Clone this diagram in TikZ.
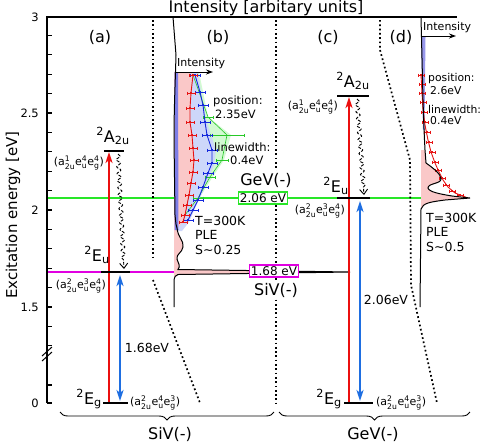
\documentclass[tikz,border=0pt]{standalone}
\usepackage{amsmath}
\usepackage{fontspec}
\setmainfont{DejaVu Sans}
\usetikzlibrary{arrows.meta,decorations.pathmorphing,decorations.pathreplacing}

\definecolor{sivcol}{RGB}{225,0,225}
\definecolor{gevcol}{RGB}{40,230,40}
\definecolor{exccol}{RGB}{235,15,15}
\definecolor{emicol}{RGB}{30,110,225}
\definecolor{plfill}{RGB}{250,200,200}
\definecolor{plefill}{RGB}{205,215,250}
\definecolor{plestrip}{RGB}{125,125,230}
\definecolor{grnfill}{RGB}{210,250,210}
\definecolor{datred}{RGB}{230,20,20}
\definecolor{datblue}{RGB}{20,40,220}
\definecolor{datgreen}{RGB}{40,200,40}

\newcommand{\orbocc}[3]{\ensuremath{\text{#1}^{\text{#2}}_{\text{#3}}}}
\newcommand{\lvlterm}[3]{\ensuremath{{}^{\text{#1}}\text{#2}_{\text{#3}}}}

\begin{document}
\begin{tikzpicture}[x=1pt,y=-1pt,
    axis/.style={line width=1.2pt},
    lvl/.style={line width=2.6pt},
    dots/.style={line width=1.7pt, dash pattern=on 1.7pt off 2.6pt},
    pump/.style={exccol, line width=2.2pt, -{Stealth[length=11pt,width=7pt,inset=3pt]}},
    emit/.style={emicol, line width=2.2pt, {Stealth[length=11pt,width=7pt,inset=3pt]}-{Stealth[length=11pt,width=7pt,inset=3pt]}},
    relax/.style={line width=0.9pt, dash pattern=on 3pt off 1.6pt, decorate,
        decoration={snake, amplitude=2pt, segment length=7pt, post length=7pt},
        -{Straight Barb[length=5pt,width=8pt]}},
    big/.style={font=\fontsize{16}{19}\selectfont, inner sep=0pt},
    mid/.style={font=\fontsize{12.5}{14.5}\selectfont, inner sep=0pt, align=left},
    small/.style={font=\fontsize{11.5}{13}\selectfont, inner sep=0pt},
    cfg/.style={font=\fontsize{11}{13}\selectfont, inner sep=0pt},
    spec/.style={line width=1pt},
    bar/.style={line width=0.6pt}]
    \useasboundingbox (0,0) rectangle (484,445);

    % energy lines of the two zero phonon lines
    \coordinate (gl) at (47,198);
    \coordinate (gr) at (421,198);
    \coordinate (ml) at (47,272);
    \coordinate (mr) at (174,272);
    \draw[gevcol, line width=2pt] (gl) -- (gr);
    \draw[sivcol, line width=2pt] (ml) -- (mr);

    % spectra (b)
    \fill[grnfill] (175,72) -- (199,72) -- (208,117) -- (231,135) -- (224,160) -- (212,178)
        -- (195,205) -- (185,220) -- (176,228) -- cycle;
    \fill[plefill] (175,72) -- (198,72) -- (201,92) -- (206,120) -- (216,150) -- (214,165)
        -- (205,187) -- (196,206) -- (189,222) -- (182,231) -- (175,231) -- cycle;
    \fill[plfill] (175,72) -- (193,72) -- (192,75) -- (191,93) -- (190,108) -- (190,122)
        -- (192,135) -- (193,148) -- (194,160) -- (193,172) -- (191,183) -- (189,195)
        -- (187,205) -- (185,215) -- (183,222) -- (177,228)
        .. controls (178,238) and (184,240) .. (183,247) .. controls (182,253) and (176,254) .. (177,259)
        .. controls (178,263) and (181,266) .. (178,269.5) -- (350,272) -- (178,274.5) -- (174,278) -- (174,72) -- cycle;
    \fill[plestrip] (174.5,72) -- (178,72) -- (178.5,230) -- (174.5,230) -- cycle;

    \draw[datgreen, bar] (193,75) -- (208,117) -- (227,135) -- (222,160) -- (210,177) -- (198,198) -- (185,215);
    \foreach \px/\py/\ew in {193/75/4, 208/117/5, 227/135/17, 222/160/6, 210/177/5, 198/198/5, 185/215/4} {
        \draw[datgreen, bar] (\px-\ew,\py) -- (\px+\ew,\py) (\px-\ew,\py-1.5) -- (\px-\ew,\py+1.5) (\px+\ew,\py-1.5) -- (\px+\ew,\py+1.5);
    }
    \draw[datblue, line width=0.9pt] (195,75) -- (200,92) -- (203,105) -- (205,122) -- (207,135) -- (212,150)
        -- (212,163) -- (208,173) -- (203,187) -- (198,200) -- (193,210) -- (188,220);
    \foreach \px/\py in {195/75, 200/92, 203/105, 205/122, 207/135, 212/150, 212/163, 208/173, 203/187, 198/200, 193/210, 188/220} {
        \draw[datblue, bar] (\px-5,\py) -- (\px+5,\py) (\px-5,\py-1.5) -- (\px-5,\py+1.5) (\px+5,\py-1.5) -- (\px+5,\py+1.5);
        \fill[datblue] (\px-1.3,\py-1.3) rectangle (\px+1.3,\py+1.3);
    }
    \draw[datred, line width=0.9pt] (193,75) -- (191,93) -- (190,108) -- (190,122) -- (192,135) -- (193,148)
        -- (194,160) -- (193,172) -- (191,183) -- (189,195) -- (187,205) -- (185,215) -- (183,222);
    \foreach \px/\py in {193/75, 191/93, 190/108, 190/122, 192/135, 193/148, 194/160, 193/172, 191/183, 189/195, 187/205, 185/215, 183/222} {
        \draw[datred, bar] (\px-4,\py) -- (\px+4,\py) (\px-4,\py-1.5) -- (\px-4,\py+1.5) (\px+4,\py-1.5) -- (\px+4,\py+1.5);
        \fill[datred] (\px-1.3,\py-1.3) rectangle (\px+1.3,\py+1.3);
    }
    \draw[spec] (173,17) -- (176,55) .. controls (175,90) and (174,110) .. (174,140) -- (175,215)
        .. controls (176,225) .. (177,228) .. controls (178,238) and (184,240) .. (183,247)
        .. controls (182,253) and (176,254) .. (177,259) .. controls (178,263) and (181,266) .. (178,269.5)
        -- (350,272) -- (178,274.5) .. controls (175,276) .. (174,280) -- (174,307);

    % spectra (d)
    \fill[plestrip!80!white] (421,37) -- (425.5,37) -- (424.5,130) -- (423,130) -- cycle;
    \fill[plfill] (421,150) -- (425,150) -- (426,163) .. controls (433,168) and (441,174) .. (441,179)
        .. controls (441,184) and (428,183) .. (428,188) .. controls (429,192) and (440,194) .. (452,196)
        -- (470,198) -- (445,200) .. controls (430,202) and (423,203) .. (421,209) -- cycle;
    \draw[datred, line width=0.9pt] (421,75) -- (422,93) -- (423,110) -- (425,125) -- (428,140) -- (431,152)
        -- (435,163) -- (439,172) -- (443,180) -- (448,187) -- (455,193) -- (468,198);
    \foreach \px/\py in {421/75, 422/84, 422/93, 423/102, 424/112, 425/122, 427/132, 429/142, 432/152, 435/162, 438/170, 442/178, 446/185, 452/191, 460/195} {
        \draw[datred, bar] (\px-3,\py) -- (\px+3,\py) (\px-3,\py-1.5) -- (\px-3,\py+1.5) (\px+3,\py-1.5) -- (\px+3,\py+1.5);
        \fill[datred] (\px-1.2,\py-1.2) rectangle (\px+1.2,\py+1.2);
    }
    \draw[spec] (421,17) -- (423,100) .. controls (424,130) .. (425,150) -- (426,163)
        .. controls (433,168) and (441,174) .. (441,179) .. controls (441,184) and (428,183) .. (428,188)
        .. controls (429,192) and (440,194) .. (452,196) -- (470,198) -- (445,200)
        .. controls (430,202) and (423,203) .. (421,209) -- (420,307);

    % panel separators
    \draw[dots] (153,20) -- (153,259);
    \draw[dots] (153,280) -- (200,403);
    \draw[dots] (276,20) -- (276,403);
    \draw[dots] (380,20) -- (380,50) -- (410,160) -- (411,285) -- (437,403);

    % frame and energy axis
    \draw[axis] (47,403) -- (47,17) -- (457,17);
    \foreach \e in {13,...,29} {
        \draw[axis] (47,{210-(\e/10-2)*194}) -- ++(5,0);
    }
    \draw[axis] (47,385) -- ++(5,0);
    \draw[axis] (47,403) -- ++(5,0);
    \draw[line width=1pt] (42,356) -- (52,347) (42,361) -- (52,352);
    \node[small, anchor=east] (t3) at (39,17) {3};
    \node[small, anchor=east] (t25) at (39,113) {2.5};
    \node[small, anchor=east] (t2) at (39,210) {2};
    \node[small, anchor=east] (t15) at (39,307) {1.5};
    \node[small, anchor=east] (t0) at (39,403) {0};
    \node[big, rotate=90, font=\fontsize{15}{18}\selectfont] (ylab) at (13,215) {Excitation energy [eV]};
    \node[big] (xlab) at (266,8) {Intensity [arbitary units]};

    \node[big] (pa) at (100,37) {(a)};
    \node[big] (pb) at (218,37) {(b)};
    \node[big] (pc) at (328,37) {(c)};
    \node[big] (pd) at (401,37) {(d)};

    % level scheme SiV(-)
    \coordinate (egaL) at (103,403);
    \coordinate (egaR) at (128,403);
    \coordinate (euaL) at (101,272);
    \coordinate (euaR) at (130,272);
    \coordinate (auaL) at (104,151);
    \coordinate (auaR) at (124,151);
    \coordinate (xa0) at (109,403);
    \coordinate (xa1) at (109,152);
    \coordinate (ya0) at (120,275);
    \coordinate (ya1) at (120,401);
    \coordinate (wa0) at (118,154);
    \coordinate (wa1) at (124,269);
    \draw[pump] (xa0) -- (xa1);
    \draw[emit] (ya0) -- (ya1);
    \draw[relax] (wa0) -- (wa1);
    \draw[lvl] (egaL) -- (egaR);
    \draw[lvl] (euaL) -- (euaR);
    \draw[lvl] (auaL) -- (auaR);
    \node[big, anchor=base east] (ega) at (102,404) {\lvlterm{2}{E}{g}};
    \node[cfg, anchor=west] (cega) at (130,403) {(\orbocc{a}{2}{2u}\orbocc{e}{4}{u}\orbocc{e}{3}{g})};
    \node[big, anchor=base] (eua) at (97,261) {\lvlterm{2}{E}{u}};
    \node[cfg, anchor=east] (ceua) at (106,286) {(\orbocc{a}{2}{2u}\orbocc{e}{3}{u}\orbocc{e}{4}{g})};
    \node[big, anchor=base] (aua) at (113,142) {\lvlterm{2}{A}{2u}};
    \node[cfg, anchor=east] (caua) at (104,163) {(\orbocc{a}{1}{2u}\orbocc{e}{4}{u}\orbocc{e}{4}{g})};
    \node[mid] (ea) at (147,348) {1.68eV};

    % level scheme GeV(-)
    \coordinate (egcL) at (344,403);
    \coordinate (egcR) at (373,403);
    \coordinate (eucL) at (337,198);
    \coordinate (eucR) at (370,198);
    \coordinate (aucL) at (337,96);
    \coordinate (aucR) at (369,96);
    \coordinate (xc0) at (349,403);
    \coordinate (xc1) at (349,97);
    \coordinate (yc0) at (360,201);
    \coordinate (yc1) at (360,401);
    \coordinate (wc0) at (357,99);
    \coordinate (wc1) at (364,195);
    \draw[pump] (xc0) -- (xc1);
    \draw[emit] (yc0) -- (yc1);
    \draw[relax] (wc0) -- (wc1);
    \draw[lvl] (egcL) -- (egcR);
    \draw[lvl] (eucL) -- (eucR);
    \draw[lvl] (aucL) -- (aucR);
    \node[big, anchor=base east] (egc) at (342,404) {\lvlterm{2}{E}{g}};
    \node[cfg, anchor=west] (cegc) at (376,403) {(\orbocc{a}{2}{2u}\orbocc{e}{4}{u}\orbocc{e}{3}{g})};
    \node[big, anchor=base] (euc) at (336,192) {\lvlterm{2}{E}{u}};
    \node[cfg, anchor=east] (ceuc) at (345,211) {(\orbocc{a}{2}{2u}\orbocc{e}{3}{u}\orbocc{e}{4}{g})};
    \node[big, anchor=base] (auc) at (353,87) {\lvlterm{2}{A}{2u}};
    \node[cfg, anchor=east] (cauc) at (338,107) {(\orbocc{a}{1}{2u}\orbocc{e}{4}{u}\orbocc{e}{4}{g})};
    \node[mid] (ec) at (386,300) {2.06eV};

    % spectra labels
    \coordinate (ib0) at (176,72);
    \coordinate (ib1) at (213,72);
    \draw[line width=1pt, -{Stealth[length=7pt,width=5pt]}] (ib0) -- (ib1);
    \node[small, anchor=west, font=\fontsize{11}{13}\selectfont] (ib) at (177,63) {Intensity};
    \node[small, anchor=west] (bpos) at (213,101) {position:};
    \node[small, anchor=west] (bposv) at (215,114) {2.35eV};
    \node[small, anchor=west] (blw) at (214,147) {linewidth:};
    \node[small, anchor=west] (blwv) at (230,160) {0.4eV};
    \node[mid, anchor=north west] (bcond) at (195,216) {T=300K\\PLE\\S\textasciitilde0.25};

    \coordinate (id0) at (421,36);
    \coordinate (id1) at (456,36);
    \draw[line width=1pt, -{Stealth[length=7pt,width=5pt]}] (id0) -- (id1);
    \node[small, anchor=west, font=\fontsize{11}{13}\selectfont] (idl) at (423,27) {Intensity};
    \node[small, anchor=west, font=\fontsize{10.8}{13}\selectfont] (dpos) at (428,79) {position:};
    \node[small, anchor=west, font=\fontsize{10.8}{13}\selectfont] (dposv) at (430,91) {2.6eV};
    \node[small, anchor=west, font=\fontsize{10.8}{13}\selectfont] (dlw) at (428,109) {linewidth:};
    \node[small, anchor=west, font=\fontsize{10.8}{13}\selectfont] (dlwv) at (430,121) {0.4eV};
    \node[mid, anchor=north west] (dcond) at (426,213) {T=300K\\PLE\\S\textasciitilde0.5};

    % zero phonon line labels
    \node[big, fill=white, inner sep=2pt] (gevlab) at (266,180) {GeV(-)};
    \node[draw=gevcol, line width=1.6pt, fill=white, inner sep=1.5pt, font=\fontsize{12}{14}\selectfont] (gevbox) at (263,198) {2.06 eV};
    \node[draw=sivcol, line width=1.6pt, fill=white, inner sep=1.5pt, font=\fontsize{12}{14}\selectfont] (sivbox) at (274,271) {1.68 eV};
    \node[big, fill=white, inner sep=2pt] (sivlab) at (276,290) {SiV(-)};

    % defect braces
    \coordinate (bs0) at (60,412);
    \coordinate (bs1) at (274,412);
    \coordinate (bg0) at (279,412);
    \coordinate (bg1) at (470,412);
    \draw[line width=0.9pt, decorate, decoration={brace, mirror, amplitude=8pt}] (bs0) -- (bs1);
    \draw[line width=0.9pt, decorate, decoration={brace, mirror, amplitude=8pt}] (bg0) -- (bg1);
    \node[big] (siv) at (170,434) {SiV(-)};
    \node[big] (gev) at (373,434) {GeV(-)};
\end{tikzpicture}
\end{document}
